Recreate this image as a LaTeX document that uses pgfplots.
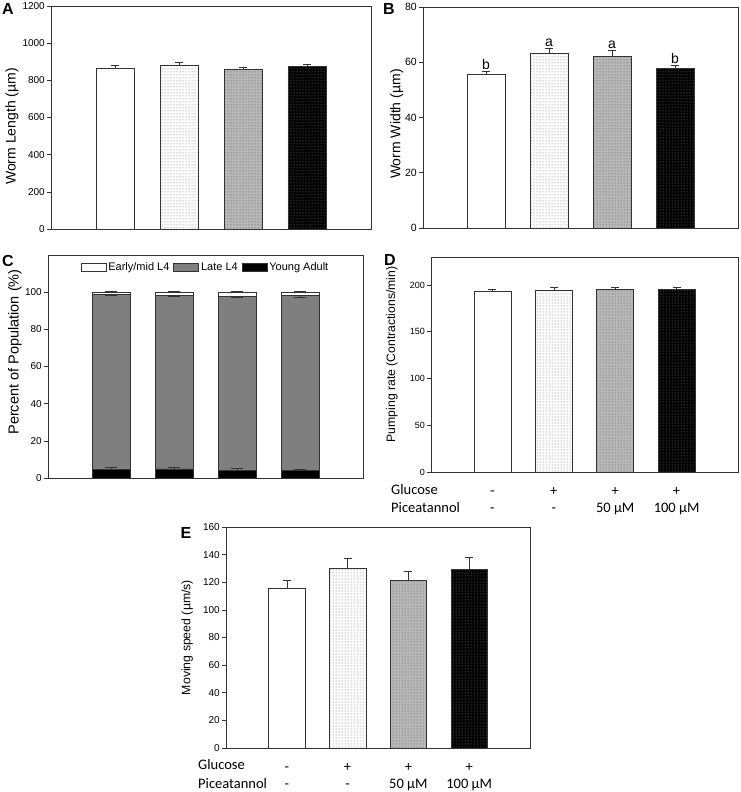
\documentclass[border=0pt]{standalone}
\usepackage{pgfplots}
\pgfplotsset{compat=1.18}
\usepackage{fontspec}
\setmainfont{Liberation Sans}
\newfontfamily\calibri{Carlito}
\usetikzlibrary{patterns}
\definecolor{axc}{HTML}{333333}
\definecolor{midgray}{HTML}{7F7F7F}
\definecolor{lgray}{HTML}{B8B8B8}

\pgfplotsset{
  base/.style={
    scale only axis, anchor=south west,
    xmin=0, xmax=5, ymin=0,
    axis line style={draw=axc, line width=0.6pt},
    every tick/.style={draw=axc, line width=0.6pt},
    ytick pos=left, tick align=outside, major tick length=4pt,
    xtick=\empty,
    yticklabel style={font=\fontsize{10}{12}\selectfont, inner sep=2pt},
    /pgf/number format/assume math mode=true,
    /pgf/number format/1000 sep={},
    ylabel style={anchor=center},
    error bars/error bar style={draw=axc, line width=0.6pt},
    error bars/error mark options={rotate=90, mark size=4pt, draw=axc, line width=0.6pt},
    clip=false,
  },
  barpanel/.style={base, ybar, bar width=0.6, bar shift=0pt},
  b0/.style={fill=white, draw=axc, line width=0.6pt},
  b1/.style={fill=white, draw=axc, line width=0.6pt, postaction={pattern=dots, pattern color=black!60}},
  b2/.style={fill=lgray, draw=axc, line width=0.6pt, postaction={pattern=dots, pattern color=black!70}},
  b3/.style={fill=black, draw=axc, line width=0.6pt, postaction={pattern=dots, pattern color=gray!90}},
  err/.style={error bars/y dir=plus, error bars/y explicit},
  treat/.style={
    xtick={1,2,3,4},
    xticklabels={{\strut -\\\strut -},{\strut +\\\strut -},{\strut +\\\strut 50 µM},{\strut +\\\strut 100 µM}},
    xticklabel style={align=center, anchor=north, inner sep=0pt, yshift=-7pt, font=\calibri\fontsize{14.5}{17.5}\selectfont},
    xtick style={draw=none},
  },
}

\begin{document}
\begin{tikzpicture}
\useasboundingbox (0pt,0pt) rectangle (741pt,792pt);

% Panel A
\begin{axis}[barpanel, at={(51pt,563pt)}, width=320pt, height=223pt,
  ymax=1200, ytick={0,200,...,1200},
  ylabel={Worm Length (µm)},
  ylabel style={at={(axis description cs:-0.122,0.46)}, font=\fontsize{14}{16}\selectfont}]
\addplot[b0, err] coordinates {(1,865) +- (0,17)};
\addplot[b1, err] coordinates {(2,882) +- (0,17)};
\addplot[b2, err] coordinates {(3,857) +- (0,11)};
\addplot[b3, err] coordinates {(4,875) +- (0,13)};
\end{axis}

% Panel B
\begin{axis}[barpanel, at={(423pt,564pt)}, width=315pt, height=221pt,
  ymax=80, ytick={0,20,...,80},
  yticklabel style={font=\fontsize{10.5}{12}\selectfont},
  ylabel={Worm Width (µm)},
  ylabel style={at={(axis description cs:-0.083,0.47)}, font=\fontsize{14}{16}\selectfont}]
\addplot[b0, err] coordinates {(1,55.6) +- (0,1.2)};
\addplot[b1, err] coordinates {(2,63.1) +- (0,2.1)};
\addplot[b2, err] coordinates {(3,62.2) +- (0,2.0)};
\addplot[b3, err] coordinates {(4,57.7) +- (0,1.1)};
\node[anchor=south, inner sep=1.5pt, font=\fontsize{14}{16}\selectfont] at (axis cs:1,56.8) {b};
\node[anchor=south, inner sep=1.5pt, font=\fontsize{14}{16}\selectfont] at (axis cs:2,65.2) {a};
\node[anchor=south, inner sep=1.5pt, font=\fontsize{14}{16}\selectfont] at (axis cs:3,64.2) {a};
\node[anchor=south, inner sep=1.5pt, font=\fontsize{14}{16}\selectfont] at (axis cs:4,58.8) {b};
\end{axis}

% Panel C
\begin{axis}[base, at={(48pt,314pt)}, width=315pt, height=223pt,
  ymax=120, ytick={0,20,...,100},
  ybar stacked, bar width=0.6,
  ylabel={Percent of Population (\%)},
  ylabel style={at={(axis description cs:-0.105,0.565)}, font=\fontsize{14.5}{16}\selectfont},
  legend style={at={(0.5,0.985)}, anchor=north, draw=none, fill=none, legend columns=3,
    font=\fontsize{11}{13}\selectfont,
    /tikz/every even column/.append style={column sep=2pt}},
]
\addlegendimage{legend image code/.code={\draw[fill=white, draw=axc, line width=0.6pt] (0pt,-4pt) rectangle (25pt,4pt);}}
\addlegendentry{Early/mid L4}
\addlegendimage{legend image code/.code={\draw[fill=midgray, draw=axc, line width=0.6pt] (0pt,-4pt) rectangle (25pt,4pt);}}
\addlegendentry{Late L4}
\addlegendimage{legend image code/.code={\draw[fill=black, draw=axc, line width=0.6pt] (0pt,-4pt) rectangle (25pt,4pt);}}
\addlegendentry{Young Adult}
\addplot[fill=black, draw=axc, line width=0.6pt, forget plot] coordinates {(1,4.8) (2,4.9) (3,4.3) (4,4.1)};
\addplot[fill=midgray, draw=axc, line width=0.6pt, forget plot] coordinates {(1,94.0) (2,93.3) (3,93.4) (4,94.0)};
\addplot[fill=white, draw=axc, line width=0.6pt, forget plot] coordinates {(1,1.2) (2,1.8) (3,2.3) (4,1.9)};
\end{axis}
% Panel C error bars
\begin{axis}[base, at={(48pt,314pt)}, width=315pt, height=223pt, ymax=120, hide axis,
  error bars/error mark options={rotate=90, mark size=6pt, draw=axc, line width=0.6pt}]
\addplot[no marks, draw=none, err] coordinates {(1,4.8) +- (0,1.0) (2,4.9) +- (0,1.0) (3,4.3) +- (0,0.7) (4,4.1) +- (0,0.8)};
\addplot[no marks, draw=none, err] coordinates {(1,100) +- (0,0.5) (2,100) +- (0,0.5) (3,100) +- (0,0.5) (4,100) +- (0,0.5)};
\addplot[no marks, draw=none, error bars/y dir=minus, error bars/y explicit] coordinates {(1,98.8) +- (0,0.6) (2,98.2) +- (0,0.6) (3,97.7) +- (0,0.4) (4,98.1) +- (0,0.6)};
\end{axis}

% Panel D
\begin{axis}[barpanel, treat, at={(431pt,320pt)}, width=307pt, height=215pt,
  ymax=230, ytick={0,50,...,200},
  yticklabel style={font=\fontsize{9}{11}\selectfont},
  ylabel={Pumping rate (Contractions/min)},
  ylabel style={at={(axis description cs:-0.127,0.547)}, font=\fontsize{12.2}{14}\selectfont}]
\addplot[b0, err] coordinates {(1,193.2) +- (0,2.1)};
\addplot[b1, err] coordinates {(2,194.7) +- (0,3.0)};
\addplot[b2, err] coordinates {(3,195.0) +- (0,3.0)};
\addplot[b3, err] coordinates {(4,195.0) +- (0,3.0)};
\end{axis}

% Panel E
\begin{axis}[barpanel, treat, at={(226pt,44pt)}, width=304pt, height=221pt,
  ymax=160, ytick={0,20,...,160},
  ylabel={Moving speed (µm/s)},
  ylabel style={at={(axis description cs:-0.128,0.5)}, font=\fontsize{12.3}{14}\selectfont}]
\addplot[b0, err] coordinates {(1,115.3) +- (0,5.8)};
\addplot[b1, err] coordinates {(2,129.8) +- (0,7.8)};
\addplot[b2, err] coordinates {(3,121.6) +- (0,6.3)};
\addplot[b3, err] coordinates {(4,129.1) +- (0,8.9)};
\end{axis}

% row labels
\node[anchor=base west, inner sep=0pt, font=\calibri\fontsize{14.5}{18}\selectfont] at (391pt,297pt) {Glucose};
\node[anchor=base west, inner sep=0pt, font=\calibri\fontsize{14.5}{18}\selectfont] at (391pt,279pt) {Piceatannol};
\node[anchor=base west, inner sep=0pt, font=\calibri\fontsize{14.5}{18}\selectfont] at (198pt,22pt) {Glucose};
\node[anchor=base west, inner sep=0pt, font=\calibri\fontsize{14.5}{18}\selectfont] at (198pt,4pt) {Piceatannol};

% panel letters
\node[font=\bfseries\fontsize{16}{18}\selectfont] at (8pt,782.5pt) {A};
\node[font=\bfseries\fontsize{16}{18}\selectfont] at (389pt,783pt) {B};
\node[font=\bfseries\fontsize{16}{18}\selectfont] at (8pt,531pt) {C};
\node[font=\bfseries\fontsize{16}{18}\selectfont] at (390pt,532pt) {D};
\node[font=\bfseries\fontsize{16}{18}\selectfont] at (186pt,259pt) {E};
\end{tikzpicture}
\end{document}
